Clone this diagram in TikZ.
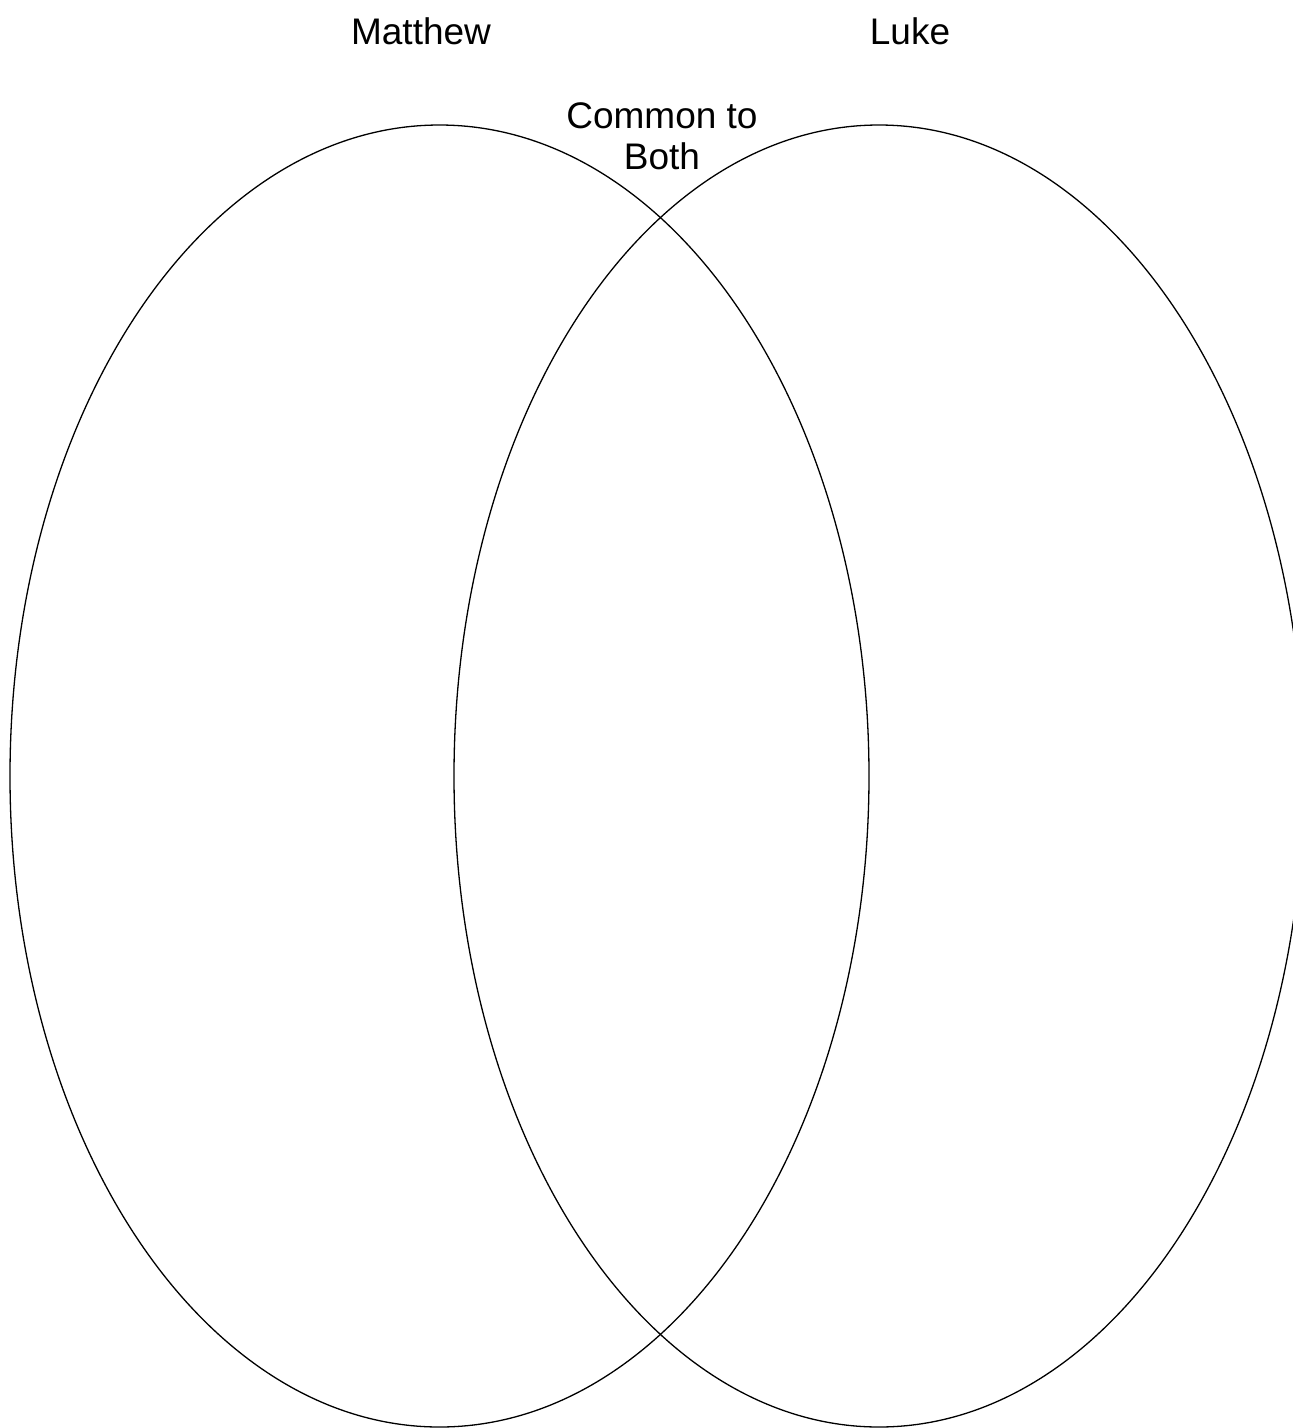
\documentclass[tikz,border=0pt]{standalone}
\usepackage{fontspec}
\setmainfont{Liberation Sans}
\usetikzlibrary{shapes.geometric}
\begin{document}
\begin{tikzpicture}[x=1pt,y=-1pt,
  setring/.style={draw=black, line width=1.3pt},
  lbl/.style={font=\fontsize{37}{41}\selectfont, inner sep=0pt, align=center}]
\useasboundingbox (0,0) rectangle (1293,1428);
\begin{scope}
\clip (0,0) rectangle (1293,1428);
\draw[setring] (439.5,776) ellipse [x radius=429.5, y radius=651];
\draw[setring] (879,776) ellipse [x radius=425, y radius=651];
\end{scope}
\node[lbl] (matthew) at (421,31) {Matthew};
\node[lbl] (luke) at (910,31) {Luke};
\node[lbl] (common) at (662,136) {Common to\\Both};
\end{tikzpicture}
\end{document}
